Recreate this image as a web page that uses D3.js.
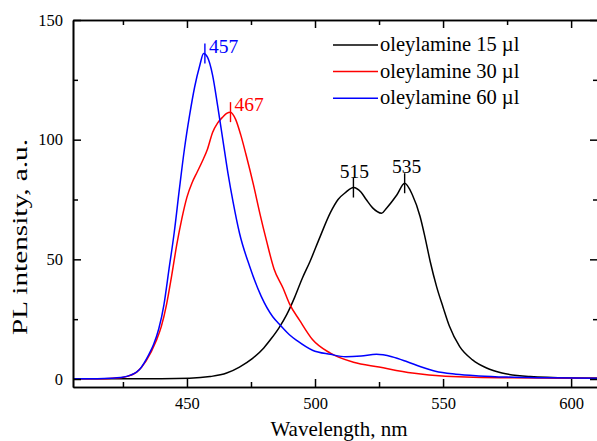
<!DOCTYPE html>
<html>
<head>
<meta charset="utf-8">
<script src="https://cdn.jsdelivr.net/npm/d3@7"></script>
<style>
    body { margin: 0; background: #fff; }
</style>
</head>
<body>
<div id="chart"></div>
<script>
// series: oleylamine 15 ul (black)
const wl15 = [405, 440, 451, 459, 465.5, 470.5, 475.5, 480, 483, 486, 489, 492, 495, 498, 502, 506, 509, 512, 515, 518, 520, 522.5, 526, 528, 532, 535, 538, 541, 543, 545, 547.5, 550, 552.5, 556.5, 561.5, 567, 573, 584, 600, 610.5]
const pl15 = [0.1, 0.15, 0.3, 1, 2.5, 5, 8.5, 13, 17, 21.5, 27, 34, 42, 49, 59.5, 69.5, 75, 78, 80, 78, 75, 71.5, 69.3, 71.5, 77, 81.8, 77, 68, 59, 49, 38.5, 30, 22, 13.5, 8, 4.6, 2.5, 1, 0.4, 0.3]
// oleylamine 30 ul (red)
const wl30 = [405, 415, 420, 424, 427, 430.5, 434, 438, 440, 442, 444, 446, 448, 450, 452, 454, 456, 458, 460, 462, 464, 465.5, 467, 469, 471, 473, 476, 478.5, 481, 484, 487.5, 490, 494, 499, 506, 515, 525, 538, 551, 577, 610.5]
const pl30 = [0.1, 0.15, 0.25, 0.5, 1.2, 3, 7.5, 16, 22, 31, 43, 56, 67, 76, 82, 86.5, 91, 96, 103, 107, 109.5, 111, 111.5, 108.5, 102, 94, 81, 69, 58, 46, 38, 31.5, 24.5, 16.5, 10.8, 7, 5, 2.5, 1.2, 0.5, 0.3]
// oleylamine 60 ul (blue)
const wl60 = [405, 415, 420, 424, 428, 431.5, 435, 437, 439, 441, 443, 445, 447, 449, 451, 453, 455, 456.5, 458, 460, 462, 464, 466, 468, 470.5, 474.5, 479, 483.5, 486, 490, 493, 499, 506, 512, 518, 524, 530, 536, 541, 547, 555, 564, 575, 590, 610.5]
const pl60 = [0.1, 0.15, 0.3, 0.6, 1.6, 4, 10, 14.5, 21, 31, 46, 61, 79, 96, 110, 122, 131, 136, 134.5, 127, 114, 100, 86, 74, 61, 47, 34.5, 26, 23, 18.5, 16, 12, 10.3, 9.3, 9.6, 10.3, 9.3, 7.2, 5.2, 3.2, 2, 1.3, 0.8, 0.5, 0.3]

const seriesNames = ["oleylamine 15 \u00b5l", "oleylamine 30 \u00b5l", "oleylamine 60 \u00b5l"]
const seriesColors = ["#000000", "#ff0000", "#0000ff"]

// peak marks
const peakWl = [457, 467, 515, 535]
const peakVal = [136, 111.5, 80, 81.8]
const peakColor = ["#0000ff", "#ff0000", "#000000", "#000000"]

const xTicks = [450, 500, 550, 600]
const xMinor = [425, 475, 525, 575]
const yTicks = [0, 50, 100, 150]
const yMinor = [25, 75, 125]

const FONT = "'Liberation Serif', 'Times New Roman', serif"

const width = 597
const height = 441
const margin = {top: 20, right: -1, bottom: 54, left: 73}

const svg = d3.select("#chart")
    .append("svg")
    .attr("width", width)
    .attr("height", height)

const x = d3.scaleLinear()
    .domain([405.5, 610.5])
    .range([margin.left, width - margin.right])

const y = d3.scaleLinear()
    .domain([-3.34, 150])
    .range([height - margin.bottom, margin.top])

const x0 = margin.left, x1 = width - margin.right
const y0 = height - margin.bottom, y1 = margin.top

// curves
const series = [
    {wl: wl15, pl: pl15},
    {wl: wl30, pl: pl30},
    {wl: wl60, pl: pl60}
]
const line = d3.line()
    .x(function(d) { return x(d[0]) })
    .y(function(d) { return y(d[1]) })
    .curve(d3.curveMonotoneX)

svg.append("clipPath").attr("id", "plotclip")
    .append("rect").attr("x", x0).attr("y", y1).attr("width", x1 - x0).attr("height", y0 - y1)

svg.append("g")
    .attr("clip-path", "url(#plotclip)")
    .selectAll("path")
    .data(series)
    .enter()
    .append("path")
    .attr("d", function(s) { return line(s.wl.map((w, i) => [w, s.pl[i]])) })
    .attr("fill", "none")
    .attr("stroke", function(s, i) { return seriesColors[i] })
    .attr("stroke-width", 1.5)

// axes, ticks pointing inward
function styleAxis(g) {
    g.attr("font-family", FONT)
    g.select(".domain").attr("stroke-width", 1.6)
    g.selectAll(".tick line").attr("stroke-width", 1.5)
    g.selectAll("text").style("font-family", FONT).style("font-size", "16.5px").attr("fill", "#000")
}

svg.append("g")
    .attr("transform", "translate(0," + y0 + ")")
    .call(d3.axisBottom(x).tickValues(xTicks).tickSizeInner(-8).tickSizeOuter(0).tickPadding(10).tickFormat(d3.format("d")))
    .call(styleAxis)
svg.append("g")
    .attr("transform", "translate(0," + y0 + ")")
    .call(d3.axisBottom(x).tickValues(xMinor).tickSizeInner(-5).tickSizeOuter(0).tickFormat(""))
    .call(styleAxis)
svg.append("g")
    .attr("transform", "translate(0," + y1 + ")")
    .call(d3.axisTop(x).tickValues(xTicks).tickSizeInner(-8).tickSizeOuter(0).tickFormat(""))
    .call(styleAxis)
svg.append("g")
    .attr("transform", "translate(0," + y1 + ")")
    .call(d3.axisTop(x).tickValues(xMinor).tickSizeInner(-5).tickSizeOuter(0).tickFormat(""))
    .call(styleAxis)

svg.append("g")
    .attr("transform", "translate(" + x0 + ",0)")
    .call(d3.axisLeft(y).tickValues(yTicks).tickSizeInner(-8).tickSizeOuter(0).tickPadding(10).tickFormat(d3.format("d")))
    .call(styleAxis)
svg.append("g")
    .attr("transform", "translate(" + x0 + ",0)")
    .call(d3.axisLeft(y).tickValues(yMinor).tickSizeInner(-5).tickSizeOuter(0).tickFormat(""))
    .call(styleAxis)
svg.append("g")
    .attr("transform", "translate(" + x1 + ",0)")
    .call(d3.axisRight(y).tickValues(yTicks).tickSizeInner(-8).tickSizeOuter(0).tickFormat(""))
    .call(styleAxis)
svg.append("g")
    .attr("transform", "translate(" + x1 + ",0)")
    .call(d3.axisRight(y).tickValues(yMinor).tickSizeInner(-5).tickSizeOuter(0).tickFormat(""))
    .call(styleAxis)

// axis titles
svg.append("text")
    .attr("x", 339)
    .attr("y", 436)
    .attr("text-anchor", "middle")
    .style("font-family", FONT)
    .style("font-size", "21px")
    .text("Wavelength, nm")

svg.append("text")
    .attr("transform", "translate(27,237) rotate(-90)")
    .attr("text-anchor", "middle")
    .attr("textLength", 196)
    .attr("lengthAdjust", "spacingAndGlyphs")
    .style("font-family", FONT)
    .style("font-size", "20px")
    .text("PL intensity, a.u.")

// peak markers
const peaks = svg.append("g")
peaks.selectAll("line")
    .data(peakWl)
    .enter()
    .append("line")
    .attr("x1", function(d) { return x(d) })
    .attr("x2", function(d) { return x(d) })
    .attr("y1", function(d, i) { return y(peakVal[i]) - 10 })
    .attr("y2", function(d, i) { return y(peakVal[i]) + 10 })
    .attr("stroke", function(d, i) { return peakColor[i] })
    .attr("stroke-width", 1.4)

peaks.selectAll("text")
    .data(peakWl)
    .enter()
    .append("text")
    .attr("x", function(d, i) { return i < 2 ? x(d) + 4 : x(d) + (i == 3 ? 2 : 1) })
    .attr("y", function(d, i) { return i < 2 ? y(peakVal[i]) - 1 : y(peakVal[i]) - 10 })
    .attr("text-anchor", function(d, i) { return i < 2 ? "start" : "middle" })
    .style("font-family", FONT)
    .style("font-size", "19.5px")
    .style("fill", function(d, i) { return peakColor[i] })
    .text(function(d) { return d })

// legend
const legend = svg.append("g")
    .attr("transform", "translate(333,45)")
const rows = legend.selectAll("g")
    .data(seriesNames)
    .enter()
    .append("g")
    .attr("transform", function(d, i) { return "translate(0," + (i * 26.6) + ")" })
rows.append("line")
    .attr("x1", 0).attr("x2", 45)
    .attr("stroke", function(d, i) { return seriesColors[i] })
    .attr("stroke-width", 1.5)
rows.append("text")
    .attr("x", 47)
    .attr("y", 6)
    .style("font-family", FONT)
    .style("font-size", "20.5px")
    .text(function(d) { return d })
</script>
</body>
</html>
